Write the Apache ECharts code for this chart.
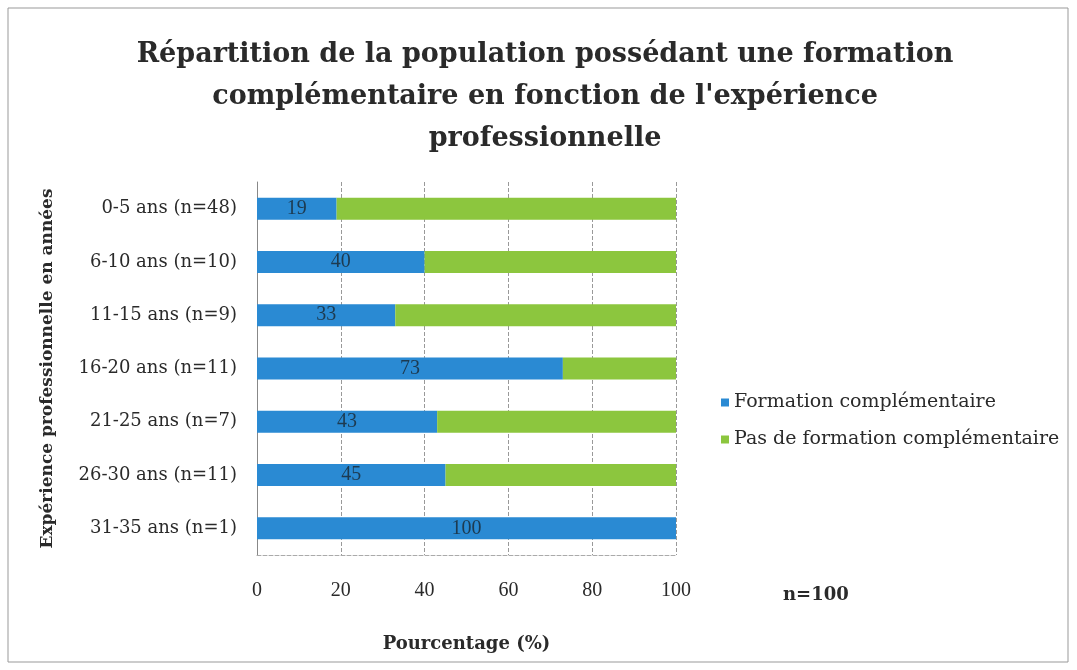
<!DOCTYPE html>
<html>
<head>
<meta charset="utf-8">
<script src="https://cdn.jsdelivr.net/npm/echarts@6/dist/echarts.min.js"></script>
<style>
  html, body { margin: 0; padding: 0; background: #fff; }
  #myChart { width: 1077px; height: 670px; }
</style>
</head>
<body>
<div id="myChart"></div>
<script>
// données
var categories = ["0-5 ans (n=48)", "6-10 ans (n=10)", "11-15 ans (n=9)", "16-20 ans (n=11)",
  "21-25 ans (n=7)", "26-30 ans (n=11)", "31-35 ans (n=1)"];
var avecFormation = [19, 40, 33, 73, 43, 45, 100];
var sansFormation = [81, 60, 67, 27, 57, 55, 0];
var xTicks = [0, 20, 40, 60, 80, 100];

var wide = "DejaVu Serif";
var serif = "Liberation Serif";
var chart = echarts.init(document.getElementById("myChart"));

chart.setOption({
  animation: false,
  title: {
    text: "Répartition de la population possédant une formation\ncomplémentaire en fonction de l'expérience\nprofessionnelle",
    left: 540,
    textAlign: "center",
    top: 29,
    textStyle: { fontFamily: wide, fontWeight: "bold", fontSize: 27, lineHeight: 42, color: "#2a2a2a" }
  },
  legend: {
    orient: "vertical",
    left: 716,
    top: 388,
    itemGap: 18,
    itemWidth: 8,
    itemHeight: 8,
    icon: "rect",
    textStyle: { fontFamily: wide, fontSize: 19, color: "#2a2a2a" },
    data: ["Formation complémentaire", "Pas de formation complémentaire"]
  },
  grid: { left: 257, right: 401, top: 182, bottom: 115 },
  xAxis: {
    type: "value",
    min: 0,
    max: 100,
    interval: 20,
    name: "Pourcentage (%)",
    nameLocation: "middle",
    nameGap: 80,
    nameTextStyle: { fontFamily: wide, fontWeight: "bold", fontSize: 18, color: "#2a2a2a" },
    axisLine: { show: true, lineStyle: { color: "#aaa", type: "dashed" } },
    axisTick: { show: false },
    axisLabel: {
      margin: 26,
      fontFamily: serif, fontSize: 20, color: "#2a2a2a",
      formatter: function (v) { return xTicks.indexOf(v) >= 0 ? String(v) : ""; }
    },
    splitLine: { show: true, lineStyle: { color: "#999", type: "dashed" } }
  },
  yAxis: {
    type: "category",
    inverse: true,
    data: categories,
    name: "Expérience professionnelle en années",
    nameLocation: "middle",
    nameRotate: 90,
    nameGap: 201,
    nameTextStyle: { fontFamily: wide, fontWeight: "bold", fontSize: 17, color: "#2a2a2a" },
    axisLine: { show: true, lineStyle: { color: "#888" } },
    axisTick: { show: false },
    axisLabel: { margin: 20, fontFamily: wide, fontSize: 18, color: "#2a2a2a" }
  },
  series: [
    {
      name: "Formation complémentaire",
      type: "bar",
      stack: "total",
      barWidth: 22,
      itemStyle: { color: "#2a8ad3" },
      label: {
        show: true,
        position: "inside",
        fontFamily: serif,
        fontSize: 20,
        color: "#1d3a50"
      },
      data: avecFormation
    },
    {
      name: "Pas de formation complémentaire",
      type: "bar",
      stack: "total",
      barWidth: 22,
      itemStyle: { color: "#8cc63e" },
      data: sansFormation
    }
  ],
  graphic: [
    {
      type: "rect",
      shape: { x: 8, y: 8, width: 1060, height: 654 },
      style: { fill: "none", stroke: "#999", lineWidth: 1 }
    },
    {
      type: "text",
      left: 783,
      top: 586,
      style: { text: "n=100", fontFamily: wide, fontWeight: "bold", fontSize: 18, fill: "#2a2a2a" }
    }
  ]
});
</script>
</body>
</html>
